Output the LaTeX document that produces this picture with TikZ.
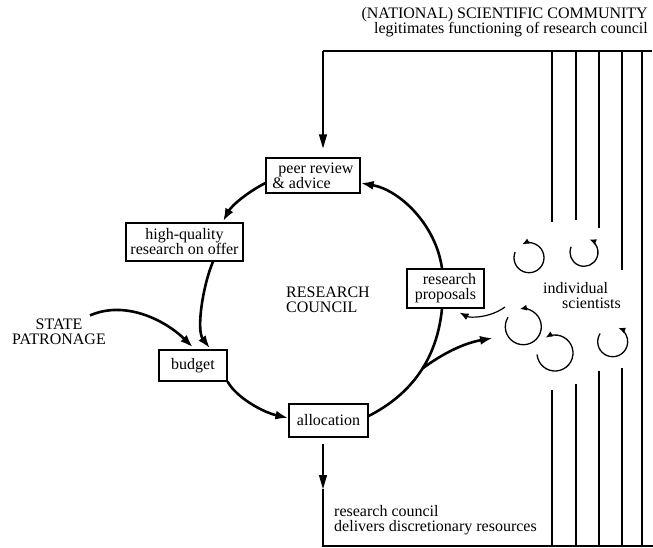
\documentclass[tikz,border=0pt]{standalone}
\usepackage{fontspec}
\setmainfont{Liberation Serif}
\usetikzlibrary{arrows.meta}

\begin{document}
\begin{tikzpicture}[x=1pt,y=1pt,
  font=\fontsize{16}{15}\selectfont,
  box/.style={draw, line width=1.2pt, inner sep=2pt},
  lbl/.style={inner sep=0pt},
  cyc/.style={line width=2.6pt, -{Latex[length=13pt,width=9pt]}},
  cycplain/.style={line width=2.6pt},
  thinline/.style={line width=1.2pt},
  thinarrow/.style={line width=1.2pt, -{Triangle[length=14pt,width=8pt]}},
  swirl/.style={line width=1.3pt, -{Latex[length=7pt,width=6pt]}},
]
\useasboundingbox (0,0) rectangle (653,-547);

% --- boxes of the council cycle ---
\node[box, minimum width=94, minimum height=35, align=left] (peer) at (313,-175.5)
  {\hspace*{6pt}peer review\\\& advice};
\node[box, minimum width=117, minimum height=38, align=center] (hq) at (184.5,-242)
  {high-quality\\research on offer};
\node[box, minimum width=68, minimum height=31] (budget) at (193,-365.5) {budget};
\node[box, minimum width=79, minimum height=33] (alloc) at (328.5,-420.5) {allocation};
\node[box, minimum width=77, minimum height=39, align=center] (prop) at (445.5,-288.5)
  {\hspace*{8pt}research\\proposals};

% --- free labels ---
\node[lbl, anchor=west, align=left] (council) at (286,-300) {RESEARCH\\COUNCIL};
\node[lbl, align=center] (state) at (59,-331.5) {STATE\\PATRONAGE};
\node[lbl, anchor=west, align=left] (sci) at (543,-296) {individual\\\hspace*{19pt}scientists};
\node[lbl, anchor=east, align=right] (community) at (648,-22.5)
  {(NATIONAL) SCIENTIFIC COMMUNITY\\legitimates functioning of research council};
\node[lbl, anchor=west, align=left] (delivers) at (334,-520.5)
  {research council\\delivers discretionary resources};

% --- the cycle ---
\draw[cyc] ([yshift=-7.5]peer.west) .. controls (248,-192) and (232,-205) .. ([xshift=38.5,yshift=1]hq.north);
\draw[cyc] ([xshift=28.5]hq.south) .. controls (203,-285) and (196,-330) .. ([xshift=17,yshift=1]budget.north);
\draw[cyc] (budget.south east) .. controls (236,-397) and (262,-412) .. ([yshift=2.5]alloc.west);
\draw[cycplain] ([yshift=4.5]alloc.east) .. controls (400,-400) and (436,-370) .. coordinate[pos=0.6] (fork) ([xshift=-3.5]prop.south);
\draw[cyc] ([xshift=-3.5]prop.north) .. controls (436,-225) and (400,-190) .. ([yshift=-7.5]peer.east);

% --- inputs and outputs ---
\draw[cyc] ([xshift=-16,yshift=3]state.north east) .. controls (125,-300) and (165,-320) .. ([yshift=2]budget.north);
\coordinate (toSci) at (493,-338);
\draw[cyc] (fork) .. controls (445,-352) and (465,-343) .. (toSci);
\coordinate (fromSci) at (505,-307);
\draw[thinline, -{Latex[length=9pt,width=7pt]}] (fromSci) .. controls (490,-318) and (470,-318) .. ([xshift=-25,yshift=-4]prop.south east);

% --- scientific community frame ---
\coordinate (topR) at (652,-51);
\coordinate (topL) at (323,-51);
\draw[thinline] (topR) -- (topL);
\draw[thinarrow, shorten >=9pt] (topL) -- (topL |- peer.north);

\coordinate (allocOut) at ([xshift=-5.5,yshift=-6]alloc.south);
\coordinate (midDown) at (allocOut |- 0,-489);
\coordinate (botL) at (allocOut |- 0,-546);
\coordinate (botR) at (653,-546);
\draw[thinarrow] (allocOut) -- (midDown);
\draw[thinline] (midDown) -- (botL) -- (botR);

\foreach \x/\a/\b in {552/222/390, 576/220/384, 599/228/371, 622/270/368} {
  \draw[thinline] (\x,-51) -- (\x,-\a);
  \draw[thinline] (\x,-\b) -- (\x,-546);
}
\draw[thinline] (642,-51) -- (642,-546);

% --- individual scientists as small cycles ---
\foreach \cx/\cy/\r/\s/\e in {529/-257.7/15/158/477, 584/-252.3/14/157/428,
    523.3/-326.7/18/148/461, 555/-353/18/185/481, 612.7/-341.7/15/147/428} {
  \draw[swirl] ([shift={(\s:\r)}]\cx,\cy) arc[start angle=\s, end angle=\e, radius=\r];
}
\end{tikzpicture}
\end{document}
